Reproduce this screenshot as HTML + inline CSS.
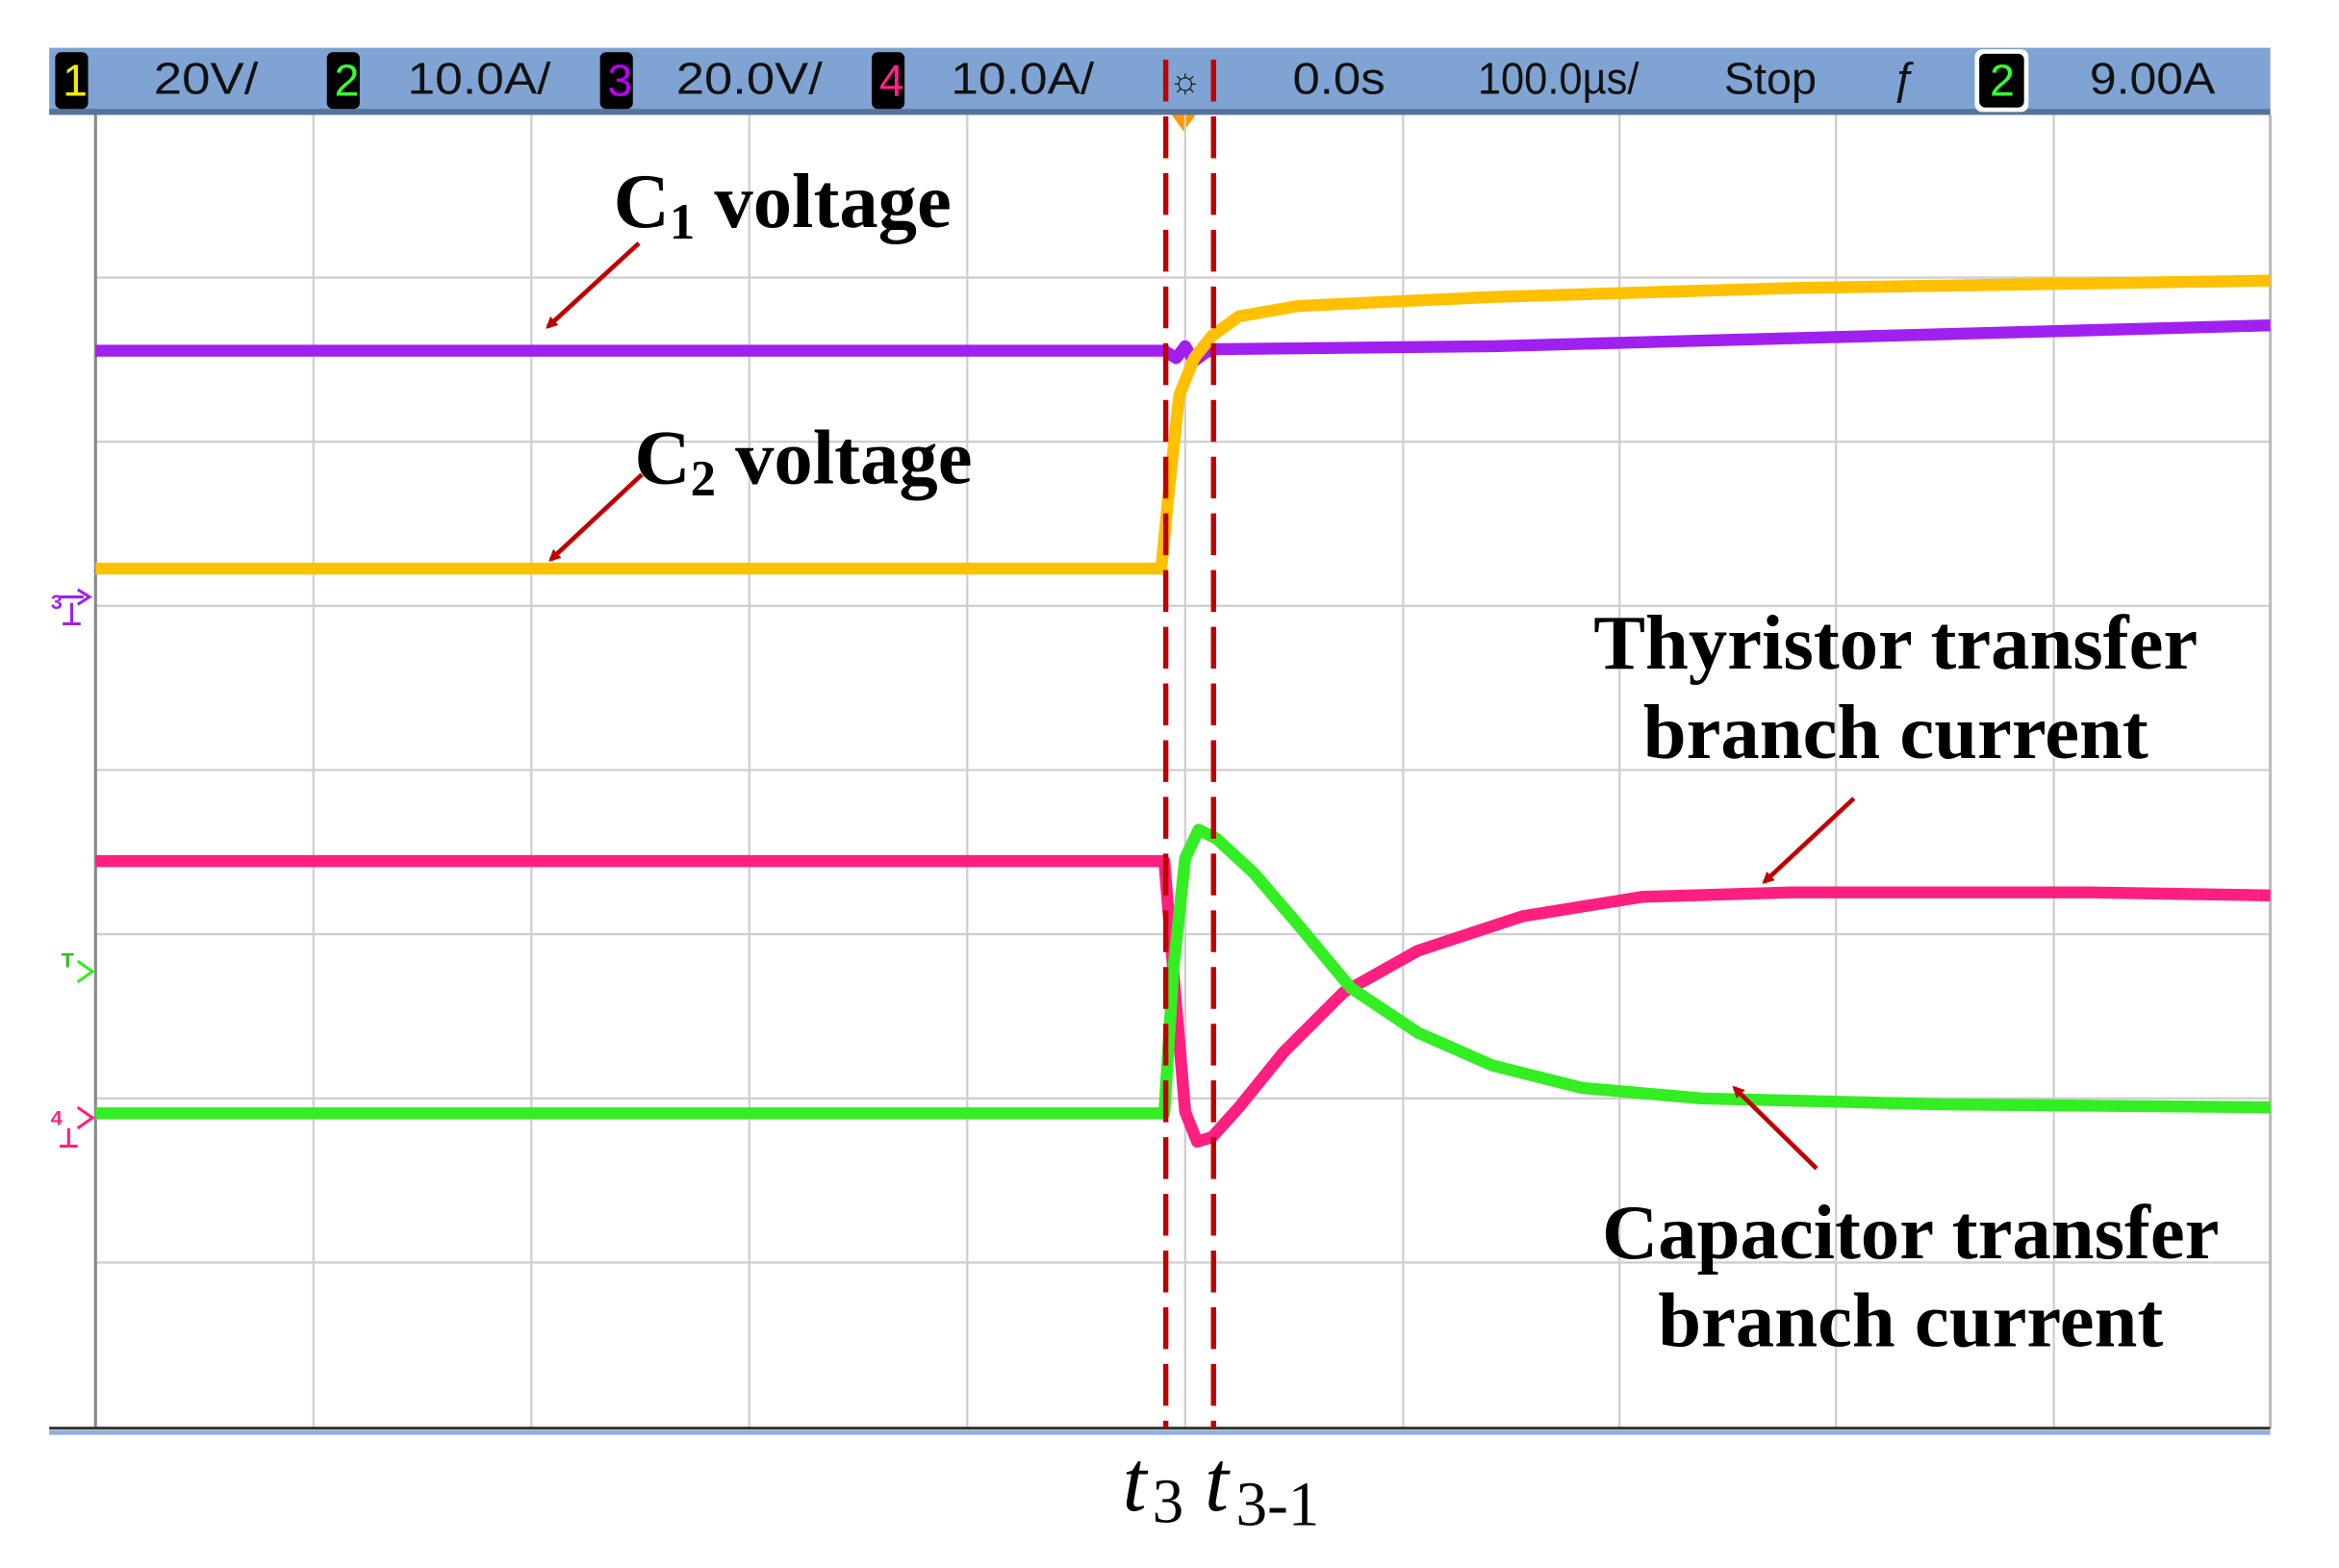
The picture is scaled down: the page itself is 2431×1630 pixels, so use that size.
<!DOCTYPE html>
<html><head><meta charset="utf-8"><style>
html,body{margin:0;padding:0;background:#fff;width:2431px;height:1630px;overflow:hidden}
svg{display:block}
.h{font-family:"Liberation Sans Narrow","Liberation Sans",sans-serif;font-size:30px;fill:#111}
.lb{font-family:"Liberation Serif",serif;font-weight:bold;font-size:52px;fill:#000}
.t{font-family:"Liberation Serif",serif;font-style:italic;font-size:58px;fill:#000}
.ts{font-family:"Liberation Serif",serif;font-size:42px;fill:#000}
</style></head><body>
<svg width="2431" height="1630" viewBox="0 0 1567 1050.7" preserveAspectRatio="none" xmlns="http://www.w3.org/2000/svg">
<defs><marker id="ah" markerWidth="8" markerHeight="8" refX="6" refY="4" orient="auto" markerUnits="userSpaceOnUse" viewBox="0 0 8 8"><path d="M0,0 L8,4 L0,8 z" fill="#c00000"/></marker></defs>
<rect x="33" y="32" width="1488" height="44" fill="#7fa3d2"/>
<rect x="33" y="73" width="1488" height="4" fill="#56739c"/>
<rect x="37" y="35" width="22" height="38" rx="4" fill="#000"/><text x="42" y="64" class="h" style="fill:#ee0">1</text>
<text x="103" y="63" class="h" textLength="70" lengthAdjust="spacingAndGlyphs">20V/</text>
<rect x="219" y="35" width="22" height="38" rx="4" fill="#000"/><text x="224" y="64" class="h" style="fill:#3f3">2</text>
<text x="273" y="63" class="h" textLength="96" lengthAdjust="spacingAndGlyphs">10.0A/</text>
<rect x="402" y="35" width="22" height="38" rx="4" fill="#000"/><text x="407" y="64" class="h" style="fill:#b0f">3</text>
<text x="453" y="63" class="h" textLength="98" lengthAdjust="spacingAndGlyphs">20.0V/</text>
<rect x="584" y="35" width="22" height="38" rx="4" fill="#000"/><text x="589" y="64" class="h" style="fill:#f28">4</text>
<text x="637" y="63" class="h" textLength="96" lengthAdjust="spacingAndGlyphs">10.0A/</text>
<text x="783" y="62" class="h" style="font-size:24px">☼</text>
<text x="866" y="63" class="h" textLength="62" lengthAdjust="spacingAndGlyphs">0.0s</text>
<text x="990" y="63" class="h" textLength="108" lengthAdjust="spacingAndGlyphs">100.0µs/</text>
<text x="1155" y="63" class="h" textLength="62" lengthAdjust="spacingAndGlyphs">Stop</text>
<text x="1268" y="63" class="h">ƒ</text>
<rect x="1323" y="33" width="36" height="42" rx="5" fill="#fff"/><rect x="1326" y="36" width="30" height="36" rx="4" fill="#000"/><text x="1333" y="64" class="h" style="fill:#3f3">2</text>
<text x="1400" y="63" class="h" textLength="84" lengthAdjust="spacingAndGlyphs">9.00A</text>
<path d="M785,77 L801,77 L793,88 z" fill="#f90"/>
<g stroke="#cfcfcf" stroke-width="1.5">
<line x1="210" y1="77" x2="210" y2="957"/><line x1="356" y1="77" x2="356" y2="957"/><line x1="502" y1="77" x2="502" y2="957"/><line x1="648" y1="77" x2="648" y2="957"/><line x1="794" y1="77" x2="794" y2="957"/><line x1="940" y1="77" x2="940" y2="957"/><line x1="1085" y1="77" x2="1085" y2="957"/><line x1="1230" y1="77" x2="1230" y2="957"/><line x1="1376" y1="77" x2="1376" y2="957"/>
<line x1="64" y1="186" x2="1521" y2="186"/><line x1="64" y1="296" x2="1521" y2="296"/><line x1="64" y1="406" x2="1521" y2="406"/><line x1="64" y1="516" x2="1521" y2="516"/><line x1="64" y1="626" x2="1521" y2="626"/><line x1="64" y1="736" x2="1521" y2="736"/><line x1="64" y1="846" x2="1521" y2="846"/>
</g>
<line x1="64" y1="77" x2="64" y2="957" stroke="#888" stroke-width="2"/>
<line x1="1521" y1="77" x2="1521" y2="957" stroke="#bbb" stroke-width="2"/>
<line x1="33" y1="957" x2="1521" y2="957" stroke="#333" stroke-width="2"/>
<line x1="33" y1="960" x2="1521" y2="960" stroke="#8fb0e0" stroke-width="3"/>
<g fill="none" stroke-width="8" stroke-linejoin="round">
<path d="M64,235 L780,235 L788,240 L794,232 L800,242 L808,236 L815,234 L1000,232 L1300,224 L1521,218" stroke="#a020f0"/>
<path d="M64,381 L778,381 L783,330 L790,265 L800,240 L812,225 L830,212 L870,205 L1000,199 L1200,193 L1521,188" stroke="#ffc000"/>
<path d="M64,577 L780,577 L786,650 L794,745 L802,765 L812,762 L830,742 L860,705 L900,665 L950,637 L1020,614 L1100,601 L1200,598 L1400,598 L1521,600" stroke="#ff1f7f"/>
<path d="M64,746 L780,746 L786,650 L794,575 L803,556 L815,562 L840,585 L870,620 L905,662 L950,692 L1000,714 L1060,729 L1140,736 L1300,740 L1521,742" stroke="#33ee22"/>
</g>
<g stroke="#c00000" stroke-width="3.5" stroke-dasharray="28 10">
<line x1="781" y1="40" x2="781" y2="957"/><line x1="813" y1="40" x2="813" y2="957"/>
</g>
<path d="M40,400 L56,400 M52,395 L60,400 L52,405 M48,404 L48,418 M42,418 L54,418" stroke="#a020f0" stroke-width="2" fill="none"/>
<text x="34" y="408" style="font:bold 14px 'Liberation Sans';fill:#a020f0">3</text>
<text x="41" y="648" style="font:bold 14px 'Liberation Sans';fill:#33bb22">T</text>
<path d="M52,644 L62,651 L52,658" stroke="#33ee22" stroke-width="2" fill="none"/>
<text x="34" y="754" style="font:bold 14px 'Liberation Sans';fill:#ff1f7f">4</text>
<path d="M52,742 L62,749 L52,756 M46,756 L46,768 M40,768 L52,768" stroke="#ff1f7f" stroke-width="2" fill="none"/>
<g stroke="#c00000" stroke-width="3" marker-end="url(#ah)">
<line x1="428" y1="163" x2="367" y2="219"/>
<line x1="430" y1="318" x2="369" y2="375"/>
<line x1="1242" y1="535" x2="1182" y2="591"/>
<line x1="1217" y1="783" x2="1162" y2="729"/>
</g>
<text x="411" y="152" class="lb">C<tspan font-size="34" dy="8">1</tspan><tspan dy="-8"> voltage</tspan></text>
<text x="425" y="324" class="lb">C<tspan font-size="34" dy="8">2</tspan><tspan dy="-8"> voltage</tspan></text>
<text x="1270" y="448" class="lb" text-anchor="middle">Thyristor transfer</text>
<text x="1270" y="508" class="lb" text-anchor="middle">branch current</text>
<text x="1280" y="843" class="lb" text-anchor="middle">Capacitor transfer</text>
<text x="1280" y="902" class="lb" text-anchor="middle">branch current</text>
<text x="752" y="1012" class="t">t</text><text x="772" y="1020" class="ts">3</text>
<text x="807" y="1012" class="t">t</text><text x="828" y="1022" class="ts">3-1</text>
</svg>
</body></html>
